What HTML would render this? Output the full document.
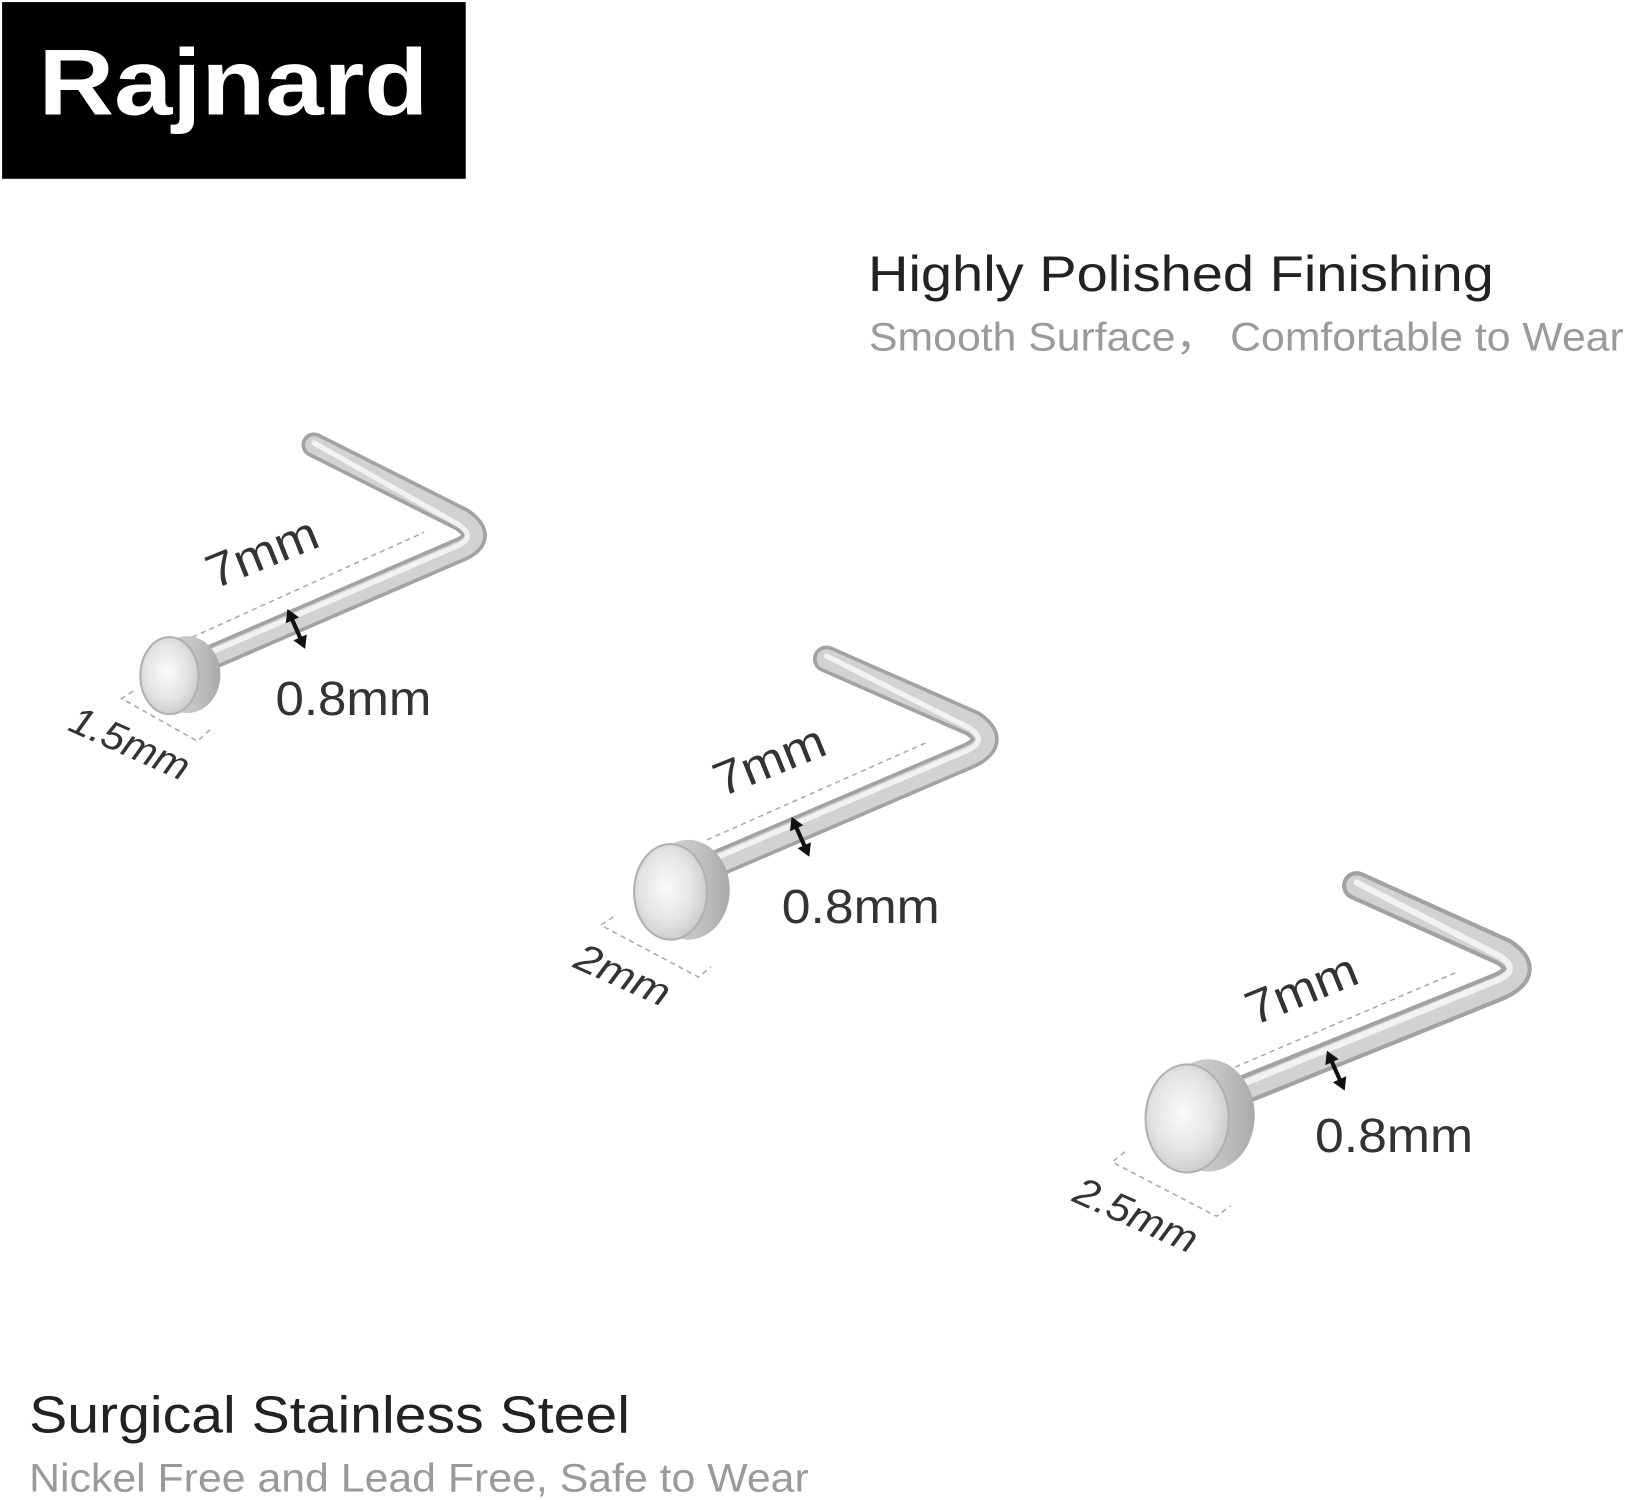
<!DOCTYPE html>
<html><head><meta charset="utf-8"><style>
html,body{margin:0;padding:0;background:#fff;}
svg{display:block;}
text{font-family:"Liberation Sans","Noto Sans CJK SC",sans-serif;}
</style></head><body>
<svg width="1630" height="1500" viewBox="0 0 1568 1443" preserveAspectRatio="none" xmlns="http://www.w3.org/2000/svg">
<defs>
<linearGradient id="hd" x1="0" y1="0" x2="1" y2="0"><stop offset="0" stop-color="#d8d8d8"/><stop offset="0.6" stop-color="#c4c4c4"/><stop offset="1" stop-color="#a9a9a9"/></linearGradient>
<radialGradient id="gm" cx="0.45" cy="0.45" r="0.6"><stop offset="0" stop-color="#fafafa"/><stop offset="0.6" stop-color="#e4e4e4"/><stop offset="1" stop-color="#c8c8c8"/></radialGradient>
<g id="dbl"><line x1="0" y1="-12" x2="0" y2="12" stroke="#111" stroke-width="4"/><path d="M-7,-9 L0,-21 L7,-9Z M-7,9 L0,21 L7,9Z" fill="#111"/></g>
</defs>
<rect x="2" y="2" width="446" height="170" fill="#000"/>
<text x="37" y="110" font-size="90" font-weight="bold" fill="#fff" textLength="375" lengthAdjust="spacingAndGlyphs">Rajnard</text>

<text x="835" y="280" font-size="48" fill="#222" textLength="602" lengthAdjust="spacingAndGlyphs">Highly Polished Finishing</text>
<text x="836" y="337" font-size="38" fill="#9a9a9a" textLength="726" lengthAdjust="spacingAndGlyphs">Smooth Surface，  Comfortable to Wear</text>
<text x="28" y="1378" font-size="50" fill="#222" textLength="578" lengthAdjust="spacingAndGlyphs">Surgical Stainless Steel</text>
<text x="28" y="1435" font-size="38" fill="#9a9a9a" textLength="750" lengthAdjust="spacingAndGlyphs">Nickel Free and Lead Free, Safe to Wear</text>

<!-- Pin 1 -->
<g>
<path d="M195,636 L440,530 Q470,518 445,500 L302,428" fill="none" stroke="#a2a2a2" stroke-width="24" stroke-linecap="round" stroke-linejoin="round"/>
<path d="M195,636 L440,530 Q470,518 445,500 L302,428" fill="none" stroke="#d2d2d2" stroke-width="17" stroke-linecap="round" stroke-linejoin="round"/>
<path d="M195,631 L438,526 Q460,517 440,504 L302,426" fill="none" stroke="#f2f2f2" stroke-width="5" stroke-linecap="round"/>
<line x1="185" y1="613" x2="408" y2="512" stroke="#aaa" stroke-width="1.5" stroke-dasharray="5,4"/>
<ellipse cx="180" cy="649" rx="32" ry="37" fill="url(#hd)"/>
<ellipse cx="163" cy="650" rx="28" ry="37" fill="url(#gm)" stroke="#b0b0b0" stroke-width="2"/>
<use href="#dbl" transform="translate(285,605) rotate(-24)"/>
<text x="0" y="0" font-size="46" fill="#333" transform="translate(206,567) rotate(-22)" textLength="112" lengthAdjust="spacingAndGlyphs">7mm</text>
<text x="265" y="688" font-size="46" fill="#333" textLength="150" lengthAdjust="spacingAndGlyphs">0.8mm</text>
<polyline points="128,665 117,672 190,713 202,702" fill="none" stroke="#aaa" stroke-width="1.5" stroke-dasharray="5,4"/>
<text x="0" y="0" font-size="38" fill="#333" font-style="italic" transform="translate(64,702) rotate(24)" textLength="122" lengthAdjust="spacingAndGlyphs">1.5mm</text>
</g>

<!-- Pin 2 -->
<g>
<path d="M680,835 L930,728 Q962,714 936,696 L795,634" fill="none" stroke="#a2a2a2" stroke-width="26" stroke-linecap="round" stroke-linejoin="round"/>
<path d="M680,835 L930,728 Q962,714 936,696 L795,634" fill="none" stroke="#d2d2d2" stroke-width="19" stroke-linecap="round" stroke-linejoin="round"/>
<path d="M680,829 L928,723 Q952,713 932,700 L795,631" fill="none" stroke="#f2f2f2" stroke-width="5" stroke-linecap="round"/>
<line x1="680" y1="808" x2="892" y2="714" stroke="#aaa" stroke-width="1.5" stroke-dasharray="5,4"/>
<ellipse cx="662" cy="856" rx="40" ry="48" fill="url(#hd)"/>
<ellipse cx="645" cy="858" rx="35" ry="46" fill="url(#gm)" stroke="#b0b0b0" stroke-width="2"/>
<use href="#dbl" transform="translate(770,805) rotate(-24)"/>
<text x="0" y="0" font-size="46" fill="#333" transform="translate(694,767) rotate(-22)" textLength="112" lengthAdjust="spacingAndGlyphs">7mm</text>
<text x="752" y="888" font-size="46" fill="#333" textLength="152" lengthAdjust="spacingAndGlyphs">0.8mm</text>
<polyline points="590,882 578,890 672,940 684,930" fill="none" stroke="#aaa" stroke-width="1.5" stroke-dasharray="5,4"/>
<text x="0" y="0" font-size="38" fill="#333" font-style="italic" transform="translate(550,930) rotate(24)" textLength="96" lengthAdjust="spacingAndGlyphs">2mm</text>
</g>

<!-- Pin 3 -->
<g>
<path d="M1180,1055 L1440,950 Q1475,935 1447,916 L1305,852" fill="none" stroke="#a2a2a2" stroke-width="28" stroke-linecap="round" stroke-linejoin="round"/>
<path d="M1180,1055 L1440,950 Q1475,935 1447,916 L1305,852" fill="none" stroke="#d2d2d2" stroke-width="20" stroke-linecap="round" stroke-linejoin="round"/>
<path d="M1180,1049 L1438,944 Q1464,934 1443,920 L1305,849" fill="none" stroke="#f2f2f2" stroke-width="6" stroke-linecap="round"/>
<line x1="1180" y1="1030" x2="1402" y2="935" stroke="#aaa" stroke-width="1.5" stroke-dasharray="5,4"/>
<ellipse cx="1162" cy="1073" rx="45" ry="54" fill="url(#hd)"/>
<ellipse cx="1142" cy="1076" rx="40" ry="52" fill="url(#gm)" stroke="#b0b0b0" stroke-width="2"/>
<use href="#dbl" transform="translate(1285,1030) rotate(-24)"/>
<text x="0" y="0" font-size="46" fill="#333" transform="translate(1206,987) rotate(-22)" textLength="112" lengthAdjust="spacingAndGlyphs">7mm</text>
<text x="1265" y="1108" font-size="46" fill="#333" textLength="152" lengthAdjust="spacingAndGlyphs">0.8mm</text>
<polyline points="1082,1108 1070,1118 1170,1170 1184,1160" fill="none" stroke="#aaa" stroke-width="1.5" stroke-dasharray="5,4"/>
<text x="0" y="0" font-size="38" fill="#333" font-style="italic" transform="translate(1030,1155) rotate(24)" textLength="126" lengthAdjust="spacingAndGlyphs">2.5mm</text>
</g>
</svg>
</body></html>
